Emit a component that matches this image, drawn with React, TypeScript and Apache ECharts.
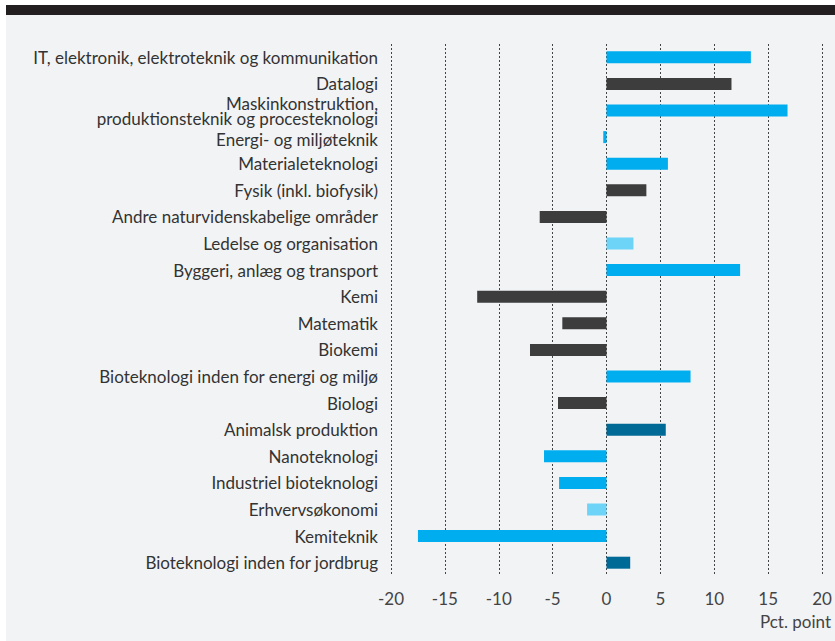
import React, { useEffect, useRef } from "react";
import * as echarts from "echarts";

const categories: string[] = [
  "IT, elektronik, elektroteknik og kommunikation",
  "Datalogi",
  "Maskinkonstruktion,\nproduktionsteknik og procesteknologi",
  "Energi- og miljøteknik",
  "Materialeteknologi",
  "Fysik (inkl. biofysik)",
  "Andre naturvidenskabelige områder",
  "Ledelse og organisation",
  "Byggeri, anlæg og transport",
  "Kemi",
  "Matematik",
  "Biokemi",
  "Bioteknologi inden for energi og miljø",
  "Biologi",
  "Animalsk produktion",
  "Nanoteknologi",
  "Industriel bioteknologi",
  "Erhvervsøkonomi",
  "Kemiteknik",
  "Bioteknologi inden for jordbrug",
];

const values: number[] = [
  13.4, 11.6, 16.8, -0.3, 5.7, 3.7, -6.2, 2.5, 12.4, -12.0,
  -4.1, -7.1, 7.8, -4.5, 5.5, -5.8, -4.4, -1.8, -17.5, 2.2,
];

// group of each category: 0 = teknisk, 1 = natur, 2 = samfund, 3 = jordbrug
const groups: number[] = [0, 1, 0, 0, 0, 1, 1, 2, 0, 1, 1, 1, 0, 1, 3, 0, 0, 2, 0, 3];
const groupColors: string[] = ["#00aeef", "#3d3d3d", "#6dd3f7", "#006a96"];

const xTicks = { min: -20, max: 20, interval: 5 };
const unitLabel = "Pct. point";

export default function App() {
  const ref = useRef<HTMLDivElement>(null);
  useEffect(() => {
    document.body.style.margin = "0";
    const chart = echarts.init(ref.current!, null, { renderer: "svg" });
    const font = "Lato, 'Open Sans', sans-serif";
    chart.setOption({
      animation: false,
      backgroundColor: "#ffffff",
      graphic: [
        { type: "rect", left: 6, top: 15, shape: { width: 829, height: 626 }, style: { fill: "#f2f3f5" }, z: -10, silent: true },
        { type: "rect", left: 6, top: 5, shape: { width: 829, height: 10 }, style: { fill: "#231f20" }, z: -10, silent: true },
        {
          type: "text",
          right: 4,
          top: 613,
          style: { text: unitLabel, fill: "#444", font: `17px ${font}` },
        },
      ],
      grid: { left: 391, right: 13, top: 44, bottom: 65, containLabel: false },
      xAxis: {
        type: "value",
        min: xTicks.min,
        max: xTicks.max,
        interval: xTicks.interval,
        axisLine: { show: false },
        axisTick: { show: false },
        axisLabel: { color: "#444", fontSize: 17, fontFamily: font, margin: 14 },
        splitLine: { show: true, lineStyle: { color: "#444", type: [2, 2], width: 1 } },
      },
      yAxis: {
        type: "category",
        data: categories,
        inverse: true,
        axisLine: { show: false },
        axisTick: { show: false },
        axisLabel: {
          color: "#333",
          fontSize: 17,
          fontFamily: font,
          margin: 13,
          lineHeight: 15,
          formatter: (v: string, i: number) => (i === 3 ? `{shift|${v}}` : v),
          rich: {
            shift: { padding: [4, 0, 0, 0], fontSize: 17, fontFamily: font, color: "#333", lineHeight: 17 },
          },
        },
      },
      series: [
        {
          type: "bar",
          barWidth: 12,
          data: values.map((v, i) => ({ value: v, itemStyle: { color: groupColors[groups[i]] } })),
        },
      ],
    });
    return () => chart.dispose();
  }, []);
  return <div ref={ref} style={{ position: "absolute", left: 0, top: 0, width: 835, height: 641 }} />;
}
